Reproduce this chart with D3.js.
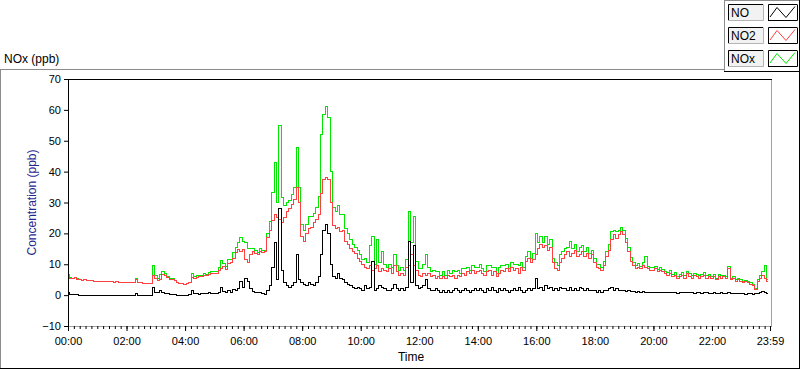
<!DOCTYPE html>
<html>
<head>
  <meta charset="utf-8">
  <title>NOx (ppb)</title>
  <script src="https://d3js.org/d3.v7.min.js"></script>
  <style>
    body { margin: 0; background: #fff; }
    svg text { font-family: "Liberation Sans", Arial, sans-serif; }
  </style>
</head>

<body>
<div id="chart"></div>
<script type="text/javascript">
  // one reading every 5 minutes, starting 00:00 (one row = one hour)
  let stepMinutes = 5;

  let no = [
    1.0,0.2,0.1,0.1,0.1,0,0,0,0,0,0,0,
    0,0,0,0,0,0,0,0,0,0,0,0,
    0,0,0,0,0.5,0,0,0,0,0,0,2.5,
    1.0,0.8,1.5,1.0,0.6,0.5,0.3,0.2,0.1,0,0,0,
    0,0,0.1,1.5,0.6,0.4,0.3,0.5,0.6,0.4,0.7,0.5,
    0.5,0.6,1.0,2.5,1.2,0.9,1.5,1.0,1.8,1.5,2.0,4.5,
    2.5,5.5,4.5,2.0,1.2,1.0,0.8,1.0,0.5,0.3,1.5,3.0,
    9.0,17.0,5.0,28.0,8.0,4.0,3.0,2.5,3.0,4.0,13.0,5.0,
    4.0,3.5,3.0,4.0,3.5,3.0,4.0,6.0,13.0,21.0,23.0,20.0,
    10.0,6.0,5.5,7.0,5.5,5.0,4.0,3.5,3.0,2.5,2.0,2.5,
    2.0,1.5,3.0,2.0,2.5,11.0,1.5,2.0,3.0,2.5,2.0,1.5,
    1.5,2.0,3.5,2.0,1.5,2.0,1.5,2.5,17.5,4.0,16.0,3.0,
    2.0,2.5,3.0,5.0,2.0,1.5,1.5,2.0,1.5,1.0,1.5,1.0,
    1.5,1.0,1.5,2.0,1.5,1.0,1.5,2.0,1.5,1.0,1.5,2.0,
    1.5,2.0,1.5,1.0,2.0,1.5,2.5,1.5,1.0,2.0,1.5,2.0,
    1.5,1.0,1.5,2.0,1.5,2.5,1.5,1.0,1.5,2.0,1.5,2.0,
    5.5,2.0,2.5,1.5,3.0,2.0,2.5,1.5,2.0,1.5,2.5,2.0,
    2.0,1.5,2.5,1.5,2.0,1.5,2.5,2.0,1.5,2.0,1.5,1.5,
    1.5,1.0,1.5,1.0,1.5,1.5,2.0,2.5,1.5,2.0,1.5,1.5,
    1.5,1.2,1.5,1.2,1.1,1.0,1.2,0.9,1.1,1.0,0.9,1.0,
    1.0,0.8,0.9,0.8,0.9,0.7,0.8,0.9,0.7,0.8,0.6,0.7,
    0.8,0.7,0.8,0.9,0.7,0.6,0.8,0.7,0.6,0.7,0.8,0.6,
    0.6,0.7,0.5,0.6,0.7,0.5,0.6,0.8,0.5,0.6,0.4,0.5,
    0.4,0.5,0.3,0.4,0.5,0.3,0.4,0.6,1.0,1.2,0.7,0.5
  ];

  let no2 = [
    5.6,5.4,5.3,5.6,5.2,5.0,4.8,4.9,4.7,4.6,4.7,4.5,
    4.5,4.4,4.5,4.4,4.3,4.4,4.3,4.2,4.3,4.2,4.2,4.1,
    4.2,4.1,4.2,4.1,5.0,4.2,4.0,3.9,3.9,3.8,3.8,6.5,
    5.5,4.6,5.2,6.6,6.4,5.6,5.0,5.1,4.6,4.0,3.8,3.7,
    3.6,3.7,4.0,5.6,5.4,5.8,6.1,5.9,6.5,6.2,6.6,7.0,
    7.1,6.9,8.0,8.6,9.2,8.4,10.1,10.6,12.0,13.8,14.9,14.2,
    14.8,11.5,10.5,13.2,14.0,13.6,13.0,14.2,13.8,14.1,18.6,21.0,
    24.3,26.0,25.0,24.5,23.5,25.0,27.0,28.0,29.5,31.0,34.8,30.0,
    19.0,17.5,20.0,21.5,22.0,23.5,24.5,26.0,33.0,37.5,38.0,37.5,
    30.0,22.5,21.5,22.0,20.5,21.0,17.5,16.5,15.0,14.0,13.5,12.0,
    11.0,10.0,9.0,8.5,9.5,8.0,8.5,9.5,7.5,8.5,8.0,7.5,
    8.5,7.0,9.5,7.5,6.5,7.0,6.5,9.0,9.5,13.0,9.5,8.0,
    6.5,6.0,7.0,6.5,7.0,6.0,6.5,5.5,6.0,5.5,6.0,5.5,
    6.5,6.0,6.5,5.5,6.5,6.0,7.0,6.5,7.5,7.0,8.0,7.0,
    7.5,8.0,7.0,6.5,7.5,8.0,6.5,7.5,6.0,7.0,8.0,7.5,
    8.5,7.5,9.0,8.0,8.5,7.0,9.0,8.0,11.0,12.0,10.5,11.5,
    13.0,15.0,16.5,15.5,16.0,14.5,15.5,10.5,8.5,8.0,10.5,12.0,
    13.0,14.0,12.5,13.5,14.5,12.5,13.0,14.0,12.5,13.5,12.0,13.0,
    10.5,9.0,8.5,8.0,9.5,12.5,14.5,18.0,19.5,18.5,19.5,20.5,
    19.5,17.0,14.0,11.0,9.5,8.5,9.0,8.5,9.5,9.0,8.5,8.0,
    8.0,8.5,7.5,8.0,7.5,7.0,6.5,7.0,6.0,6.5,5.5,6.0,
    6.5,5.5,7.0,6.0,5.5,6.5,6.0,5.5,6.0,6.5,5.5,6.0,
    5.5,6.0,5.0,6.0,5.5,6.0,5.5,8.5,5.0,5.5,4.5,5.0,
    4.5,4.0,4.5,4.0,3.5,3.0,1.8,4.5,5.5,6.5,5.5,4.5
  ];

  let nox = [
    6.6,5.6,5.4,5.7,5.3,5.0,4.8,4.9,4.7,4.6,4.7,4.5,
    4.5,4.4,4.5,4.4,4.3,4.4,4.3,4.2,4.3,4.2,4.2,4.1,
    4.2,4.1,4.2,4.1,5.5,4.2,4.0,3.9,3.9,3.8,3.8,9.5,
    6.5,5.4,6.7,7.6,7.0,6.1,5.3,5.3,4.7,4.0,3.8,3.7,
    3.6,3.7,4.1,7.1,6.0,6.2,6.4,6.4,7.1,6.6,7.3,7.5,
    7.6,7.5,9.0,11.1,10.4,9.3,11.6,11.6,13.8,15.3,16.9,18.7,
    17.3,17.0,15.0,15.2,15.2,14.6,13.8,15.2,14.3,14.4,20.1,24.0,
    33.3,43.0,30.0,55.0,31.5,29.0,30.0,30.5,32.5,35.0,47.8,35.0,
    23.0,21.0,23.0,25.5,25.5,26.5,28.5,32.0,52.0,58.5,61.0,57.5,
    40.0,28.5,27.0,29.0,26.0,26.0,21.5,20.0,18.0,16.5,15.5,14.5,
    13.0,11.5,12.0,10.5,16.0,19.0,10.0,18.0,10.5,14.0,10.0,9.0,
    10.0,9.0,13.0,9.5,8.0,9.0,8.0,11.5,27.0,17.0,25.5,11.0,
    8.5,8.5,10.0,13.0,9.0,7.5,8.0,7.5,7.5,6.5,7.5,6.5,
    8.0,7.0,8.0,7.5,8.0,7.0,8.5,8.5,9.0,8.0,9.5,9.0,
    9.0,10.0,8.5,7.5,9.5,9.5,9.0,9.0,7.0,9.0,9.5,9.5,
    10.0,8.5,10.5,10.0,10.0,9.5,10.5,9.0,12.5,14.0,12.0,13.5,
    20.0,17.0,19.0,17.0,19.0,16.5,18.0,12.0,10.5,9.5,13.0,14.0,
    15.0,15.5,17.5,15.0,16.5,14.0,15.5,16.0,14.0,15.5,13.5,14.5,
    12.0,10.0,10.0,9.0,11.0,14.0,16.5,20.5,21.0,20.5,21.0,22.0,
    21.0,18.2,15.5,12.2,10.6,9.5,10.2,9.4,10.6,12.5,9.4,9.0,
    9.0,9.3,8.4,8.8,8.4,7.7,7.3,7.9,6.7,7.3,6.1,6.7,
    7.3,6.2,7.8,6.9,6.2,7.1,6.8,6.2,6.6,7.2,6.3,6.6,
    6.1,6.7,5.5,6.6,6.2,6.5,6.1,9.3,5.5,6.1,4.9,5.5,
    4.9,4.5,4.8,4.4,4.0,3.3,2.2,5.1,6.5,7.7,9.5,5.0
  ];

  let seriesNames = ['NO', 'NO2', 'NOx'];
  let seriesColors = ['#000000', '#ff4040', '#00e800'];

  let yTickValues = [-10, 0, 10, 20, 30, 40, 50, 60, 70];
  let xTickMinutes = [0, 120, 240, 360, 480, 600, 720, 840, 960, 1080, 1200, 1320, 1439];
  let xTickLabels = ['00:00', '02:00', '04:00', '06:00', '08:00', '10:00', '12:00',
                     '14:00', '16:00', '18:00', '20:00', '22:00', '23:59'];

  let W = 800, H = 369;
  let plot = {left: 68, top: 79, right: 771, bottom: 326};

  let svg = d3.select('#chart')
    .append('svg')
      .attr('width', W)
      .attr('height', H);

  // panel frame: grey top/left, black bottom/right
  svg.append('line').attr('x1', 0).attr('x2', 724).attr('y1', 69.5).attr('y2', 69.5).attr('stroke', '#8c8c8c');
  svg.append('line').attr('x1', 0.5).attr('x2', 0.5).attr('y1', 69).attr('y2', H).attr('stroke', '#8c8c8c');
  svg.append('line').attr('x1', 0).attr('x2', W).attr('y1', 368.5).attr('y2', 368.5).attr('stroke', '#000');
  svg.append('line').attr('x1', 799.5).attr('x2', 799.5).attr('y1', 0).attr('y2', H).attr('stroke', '#000');

  svg.append('text')
     .attr('x', 4)
     .attr('y', 63)
     .attr('font-size', '12px')
     .text('NOx (ppb)');

  let xScale = d3.scaleLinear()
                 .domain([0, 1439])
                 .range([plot.left, 770]);

  let yScale = d3.scaleLinear()
                 .domain([-10, 70])
                 .range([plot.bottom, plot.top]);

  // data
  svg.append('clipPath').attr('id', 'clip')
     .append('rect')
       .attr('x', plot.left + 1).attr('y', plot.top)
       .attr('width', plot.right - plot.left).attr('height', plot.bottom - plot.top);

  let allSeries = [no, no2, nox];
  let line = d3.line()
               .curve(d3.curveStep)
               .x((d, i) => xScale(i * stepMinutes))
               .y(d => yScale(d));

  let gData = svg.append('g').attr('clip-path', 'url(#clip)');
  [2, 1, 0].forEach(k => {
    gData.append('path')
         .datum(allSeries[k])
         .attr('fill', 'none')
         .attr('stroke', seriesColors[k])
         .attr('stroke-width', 1)
         .attr('shape-rendering', 'crispEdges')
         .attr('d', line);
  });

  // plot frame: black top/left, grey right/bottom
  svg.append('line').attr('x1', plot.left).attr('x2', plot.right + 1)
     .attr('y1', plot.top + 0.5).attr('y2', plot.top + 0.5).attr('stroke', '#000');
  svg.append('line').attr('x1', plot.left + 0.5).attr('x2', plot.left + 0.5)
     .attr('y1', plot.top).attr('y2', plot.bottom + 1).attr('stroke', '#000');
  svg.append('line').attr('x1', plot.right + 0.5).attr('x2', plot.right + 0.5)
     .attr('y1', plot.top + 1).attr('y2', plot.bottom + 1).attr('stroke', '#a0a0a0');
  svg.append('line').attr('x1', plot.left + 1).attr('x2', plot.right + 1)
     .attr('y1', plot.bottom + 0.5).attr('y2', plot.bottom + 0.5).attr('stroke', '#a0a0a0');

  // y axis
  let yAxis = d3.axisLeft(yScale)
                .tickValues(yTickValues)
                .tickSize(4)
                .tickPadding(3);
  let gy = svg.append('g')
              .attr('transform', `translate(${plot.left},0)`)
              .call(yAxis);
  gy.select('.domain').remove();
  gy.selectAll('text').attr('font-size', '11px').attr('font-family', null).attr('fill', '#000');

  svg.append('text')
     .attr('transform', `translate(36, ${(plot.top + plot.bottom) / 2}) rotate(-90)`)
     .style('text-anchor', 'middle')
     .attr('font-size', '12px')
     .attr('fill', '#1f2890')
     .text('Concentration (ppb)');

  // x axis: minor ticks every 12 minutes, labelled ticks every 2 hours
  let xMinor = d3.axisBottom(xScale)
                 .tickValues(d3.range(0, 1440, 12))
                 .tickSize(3)
                 .tickFormat('');
  let gxm = svg.append('g')
               .attr('transform', `translate(0,${plot.bottom})`)
               .call(xMinor);
  gxm.select('.domain').remove();

  let xAxis = d3.axisBottom(xScale)
                .tickValues(xTickMinutes)
                .tickSize(5)
                .tickPadding(6)
                .tickFormat((d, i) => xTickLabels[i]);
  let gx = svg.append('g')
              .attr('transform', `translate(0,${plot.bottom})`)
              .call(xAxis);
  gx.select('.domain').remove();
  gx.selectAll('text').attr('font-size', '11px').attr('font-family', null).attr('fill', '#000');

  svg.append('text')
     .attr('x', 411)
     .attr('y', 361)
     .style('text-anchor', 'middle')
     .attr('font-size', '12px')
     .text('Time');

  // legend
  let lg = svg.append('g');
  lg.append('rect').attr('x', 724.5).attr('y', 0.5).attr('width', 76).attr('height', 71)
    .attr('fill', '#fff').attr('stroke', '#8c8c8c');
  lg.append('line').attr('x1', 724).attr('x2', W).attr('y1', 71.5).attr('y2', 71.5).attr('stroke', '#000');
  lg.append('line').attr('x1', 799.5).attr('x2', 799.5).attr('y1', 0).attr('y2', 72).attr('stroke', '#000');

  let zig = d3.line();
  seriesNames.forEach((name, i) => {
    let top = 4 + i * 23;
    let item = lg.append('g').attr('transform', `translate(0,${top})`);
    // name box
    item.append('rect').attr('x', 728).attr('y', 0).attr('width', 35).attr('height', 16).attr('fill', '#f2f2f2');
    item.append('path').attr('d', 'M728.5,16V0.5H763').attr('fill', 'none').attr('stroke', '#000');
    item.append('path').attr('d', 'M763.5,0.5V16.5H728').attr('fill', 'none').attr('stroke', '#b4b4b4');
    item.append('text').attr('x', 731).attr('y', 13).attr('font-size', '12px').text(name);
    // line sample box
    item.append('rect').attr('x', 768).attr('y', 0).attr('width', 29).attr('height', 16).attr('fill', '#fff');
    item.append('path').attr('d', 'M768.5,16V0.5H797').attr('fill', 'none').attr('stroke', '#000');
    item.append('path').attr('d', 'M797.5,0.5V16.5H768').attr('fill', 'none').attr('stroke', '#000');
    item.append('path')
        .attr('d', zig([[770, 13], [777, 3.5], [786, 13.5], [795, 2.5]]))
        .attr('fill', 'none')
        .attr('stroke', seriesColors[i]);
  });
</script>
</body>
</html>
